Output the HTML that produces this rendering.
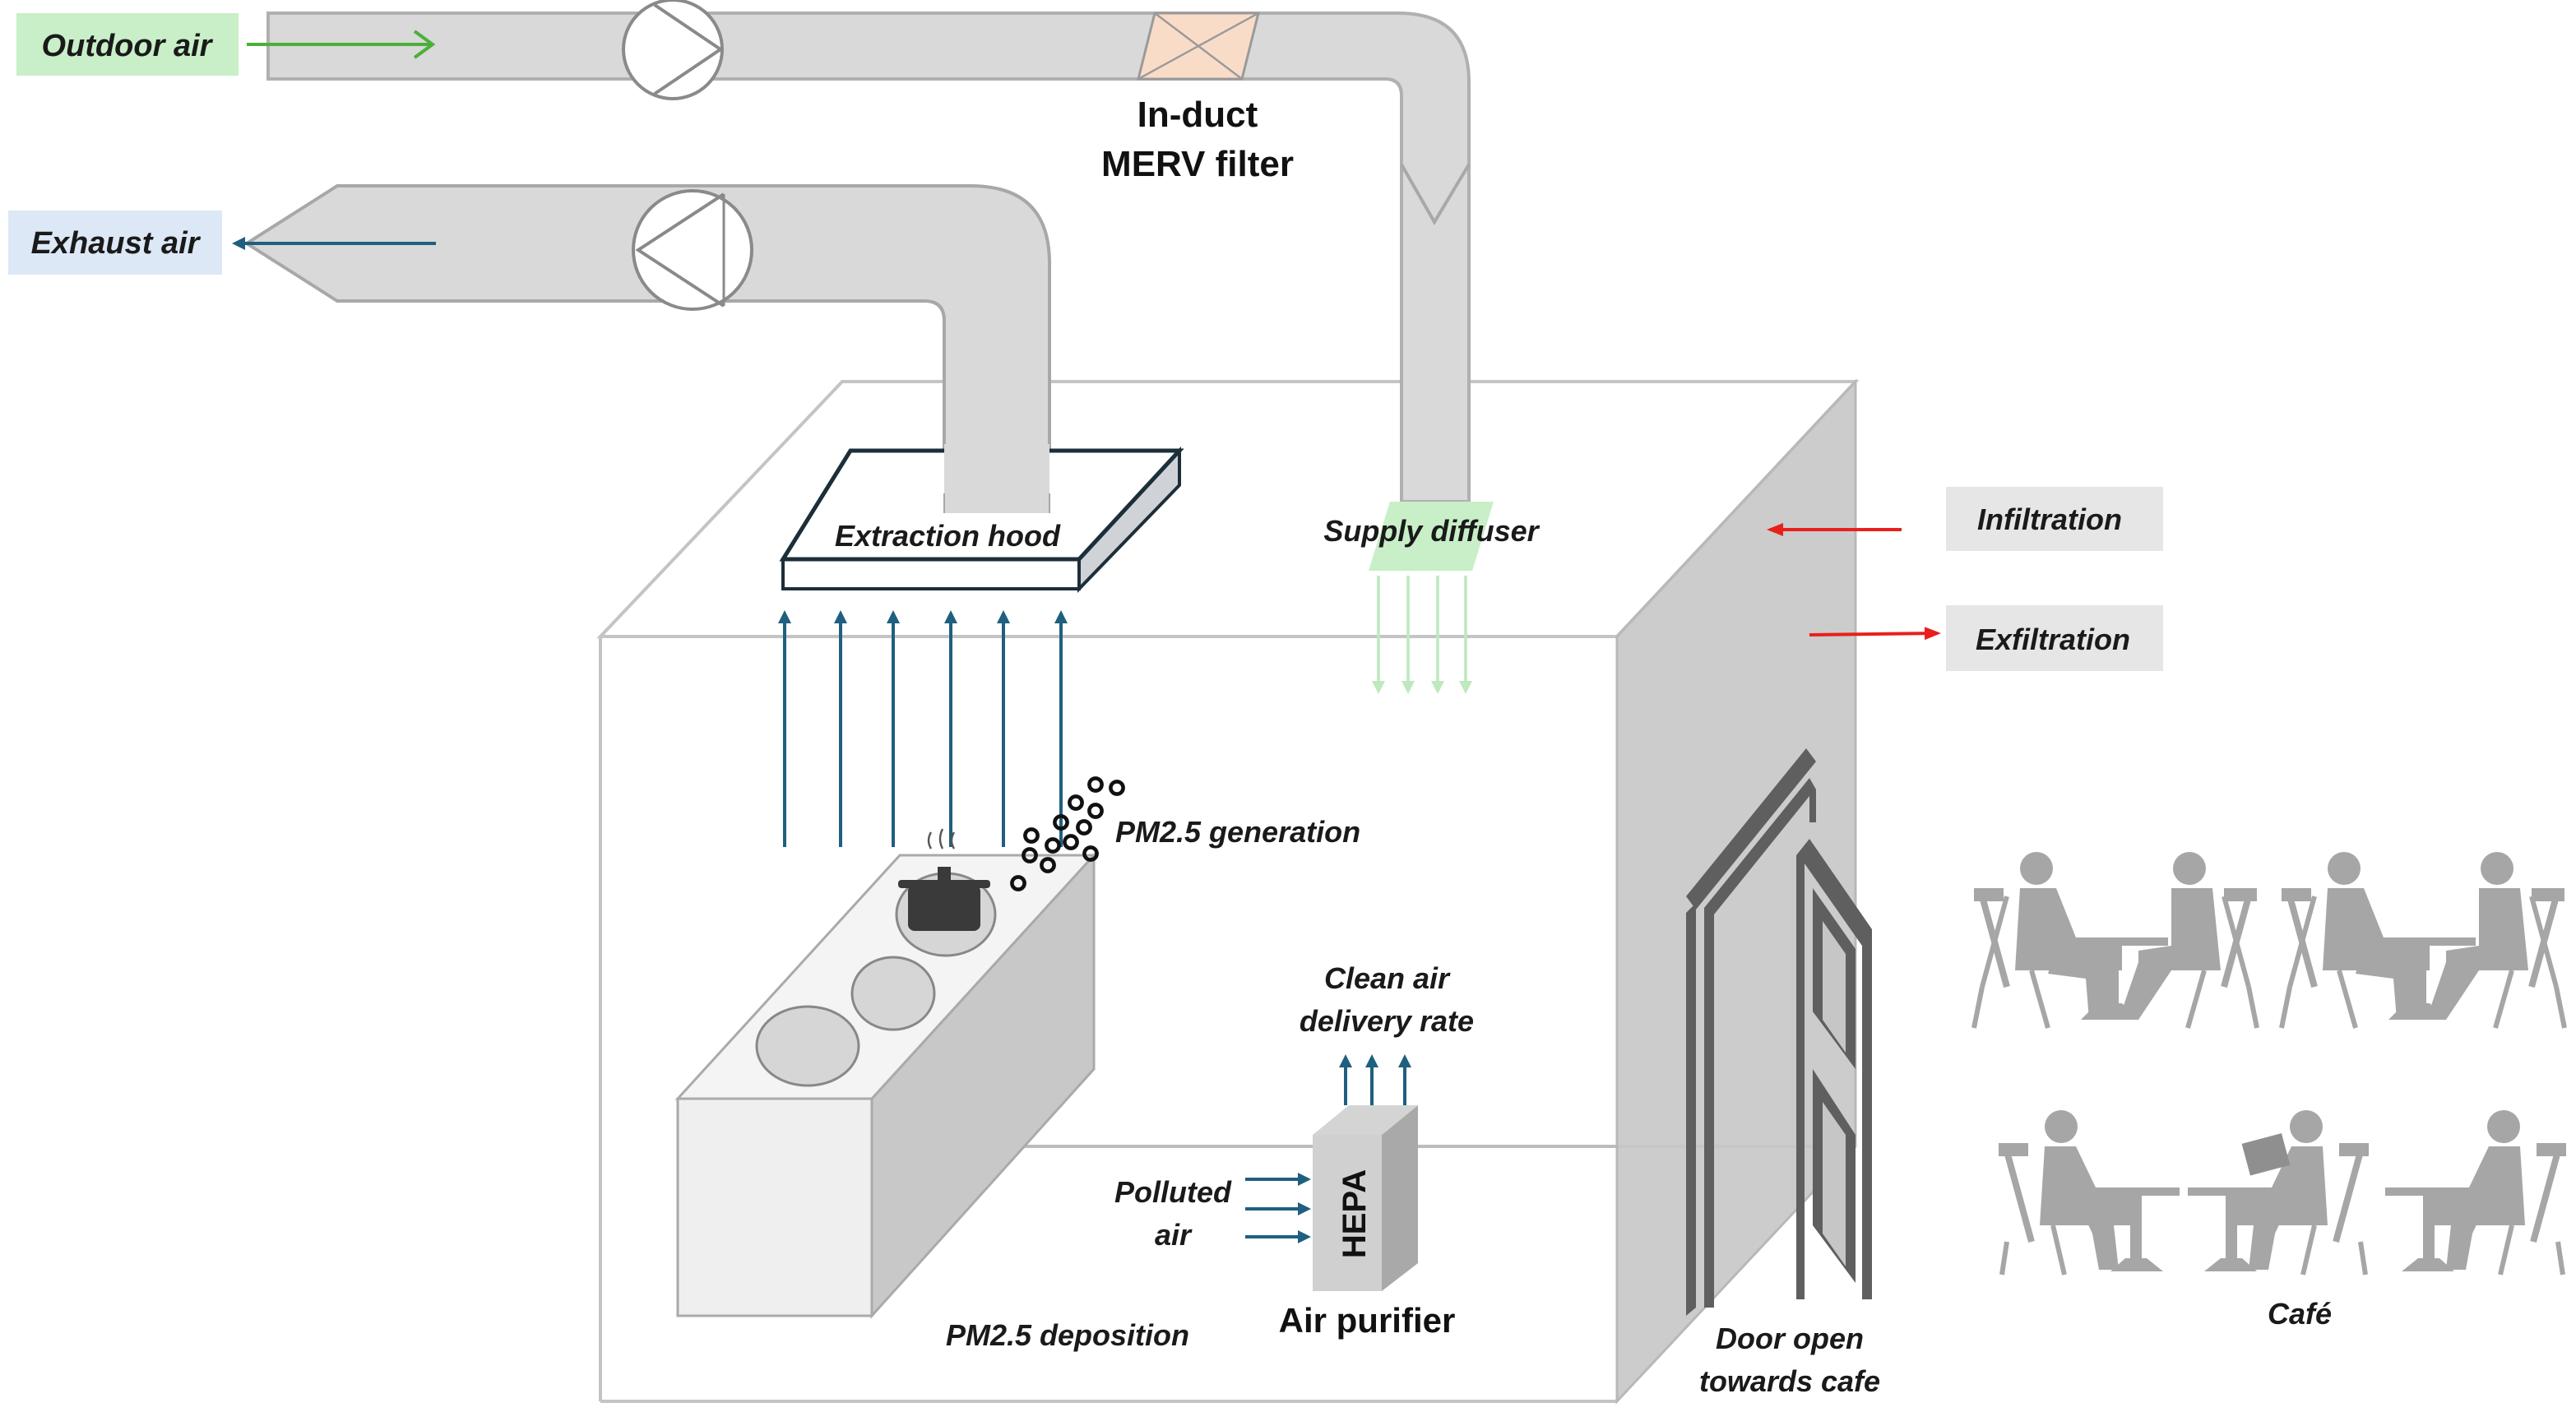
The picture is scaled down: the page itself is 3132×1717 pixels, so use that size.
<!DOCTYPE html>
<html><head><meta charset="utf-8"><style>
html,body{margin:0;padding:0;background:#fff;}
svg{display:block;}
text{font-family:"Liberation Sans",Arial,sans-serif;}
.it{font-style:italic;font-weight:bold;fill:#1a1a1a;}
</style></head><body>
<svg width="3132" height="1717" viewBox="0 0 1566 858.5" xmlns="http://www.w3.org/2000/svg">
<defs>
<marker id="ab" markerWidth="8" markerHeight="8" refX="6" refY="4" orient="auto" markerUnits="userSpaceOnUse"><path d="M0,0 L8,4 L0,8 z" fill="#1f5f80"/></marker>
<marker id="ar" markerWidth="10" markerHeight="8" refX="8" refY="4" orient="auto" markerUnits="userSpaceOnUse"><path d="M0,0 L10,4 L0,8 z" fill="#e8201c"/></marker>
<marker id="ag" markerWidth="8" markerHeight="8" refX="6" refY="4" orient="auto" markerUnits="userSpaceOnUse"><path d="M0,0 L8,4 L0,8 z" fill="#bfe8bf"/></marker>
</defs>

<polygon points="512,232 1128,232 983,387 365,387" fill="#fff" stroke="#c4c4c4" stroke-width="2"/>
<line x1="365" y1="387" x2="365" y2="852" stroke="#c4c4c4" stroke-width="2"/>
<line x1="365" y1="852" x2="983" y2="852" stroke="#c4c4c4" stroke-width="2"/>
<line x1="620" y1="697" x2="1128" y2="697" stroke="#bcbcbc" stroke-width="2"/>

<path d="M163,8 L850,8 Q893,8 893,50 L893,305 L852,305 L852,58 Q852,48 842,48 L163,48 Z" fill="#d9d9d9" stroke="#b0b0b0" stroke-width="2"/>
<polyline points="852,100 872,135 893,100" fill="none" stroke="#a8a8a8" stroke-width="2"/>
<circle cx="409" cy="30" r="30" fill="#fff" stroke="#8a8a8a" stroke-width="2"/>
<polyline points="398,3 438,30 398,57" fill="none" stroke="#8a8a8a" stroke-width="2"/>
<polygon points="702,8 765,8 755,48 692,48" fill="#f9dcc8" stroke="#9a9a9a" stroke-width="1.5"/>
<line x1="702" y1="8" x2="755" y2="48" stroke="#9a9a9a" stroke-width="1.2"/>
<line x1="765" y1="8" x2="692" y2="48" stroke="#9a9a9a" stroke-width="1.2"/>
<text x="728" y="77" font-size="22" font-weight="bold" text-anchor="middle" fill="#111">In-duct</text>
<text x="728" y="107" font-size="22" font-weight="bold" text-anchor="middle" fill="#111">MERV filter</text>

<rect x="10" y="8" width="135" height="38" fill="#c8efc8"/>
<text x="77" y="34" font-size="19" class="it" text-anchor="middle">Outdoor air</text>
<line x1="150" y1="27" x2="262" y2="27" stroke="#4caf3a" stroke-width="2"/>
<polyline points="252,19 263,27 252,35" fill="none" stroke="#4caf3a" stroke-width="2"/>

<path d="M205,113 L590,113 Q638,113 638,160 L638,312 L574,312 L574,195 Q574,183 562,183 L205,183 L150,148 Z" fill="#d9d9d9" stroke="#a8a8a8" stroke-width="2"/>
<circle cx="421" cy="152" r="36" fill="#fff" stroke="#8a8a8a" stroke-width="2"/>
<polyline points="440,118 388,152 440,186" fill="none" stroke="#8a8a8a" stroke-width="2"/>
<line x1="440" y1="118" x2="440" y2="186" stroke="#8a8a8a" stroke-width="1.5"/>
<rect x="5" y="128" width="130" height="39" fill="#dce8f5"/>
<text x="70" y="154" font-size="19" class="it" text-anchor="middle">Exhaust air</text>
<line x1="265" y1="148" x2="143" y2="148" stroke="#1f5f80" stroke-width="2" marker-end="url(#ab)"/>

<polygon points="656,340 717,274 717,295 656,358" fill="#cfd3d8" stroke="#1c2e3a" stroke-width="2"/>
<polygon points="476,340 656,340 656,358 476,358" fill="#fff" stroke="#1c2e3a" stroke-width="2"/>
<polygon points="517,274 717,274 656,340 476,340" fill="#fff" stroke="#1c2e3a" stroke-width="2.5"/>
<rect x="574" y="270" width="64" height="42" fill="#d9d9d9"/>
<line x1="574" y1="300" x2="574" y2="312" stroke="#a8a8a8"/><line x1="638" y1="300" x2="638" y2="312" stroke="#a8a8a8"/>
<text x="576" y="332" font-size="18" class="it" text-anchor="middle">Extraction hood</text>

<g stroke="#1f5f80" stroke-width="2" marker-end="url(#ab)">
<line x1="477" y1="515" x2="477" y2="373"/><line x1="511" y1="515" x2="511" y2="373"/>
<line x1="543" y1="515" x2="543" y2="373"/><line x1="578" y1="515" x2="578" y2="373"/>
<line x1="610" y1="515" x2="610" y2="373"/><line x1="645" y1="515" x2="645" y2="373"/>
</g>

<polygon points="983,387 1128,232 1128,697 983,852" fill="#c6c6c6" fill-opacity="0.9" stroke="#b8b8b8" stroke-width="1.5"/>

<polygon points="845,305 908,305 895,347 832,347" fill="#c8efc8"/>
<text x="870" y="329" font-size="18" class="it" text-anchor="middle">Supply diffuser</text>
<g stroke="#bfe8bf" stroke-width="1.8" marker-end="url(#ag)">
<line x1="838" y1="350" x2="838" y2="420"/><line x1="856" y1="350" x2="856" y2="420"/>
<line x1="874" y1="350" x2="874" y2="420"/><line x1="891" y1="350" x2="891" y2="420"/>
</g>

<rect x="1183" y="296" width="132" height="39" fill="#e6e6e6"/>
<text x="1246" y="322" font-size="18" class="it" text-anchor="middle">Infiltration</text>
<rect x="1183" y="368" width="132" height="40" fill="#e6e6e6"/>
<text x="1248" y="395" font-size="18" class="it" text-anchor="middle">Exfiltration</text>
<line x1="1156" y1="322" x2="1076" y2="322" stroke="#e8201c" stroke-width="2" marker-end="url(#ar)"/>
<line x1="1100" y1="386" x2="1178" y2="385" stroke="#e8201c" stroke-width="2" marker-end="url(#ar)"/>

<polygon points="530,668 665,520 665,650 530,800" fill="#c8c8c8" stroke="#aaa" stroke-width="1.5"/>
<polygon points="412,668 530,668 530,800 412,800" fill="#efefef" stroke="#aaa" stroke-width="1.5"/>
<polygon points="412,668 530,668 665,520 547,520" fill="#f4f4f4" stroke="#aaa" stroke-width="1.5"/>
<ellipse cx="491" cy="636" rx="31" ry="24" fill="#d6d6d6" stroke="#888" stroke-width="1.5"/>
<ellipse cx="543" cy="604" rx="25" ry="22" fill="#d6d6d6" stroke="#888" stroke-width="1.5"/>
<ellipse cx="575" cy="556" rx="30" ry="25" fill="#d6d6d6" stroke="#888" stroke-width="1.5"/>
<rect x="552" y="538" width="44" height="28" rx="4" fill="#3a3a3a"/>
<rect x="546" y="535" width="56" height="5" rx="2" fill="#3a3a3a"/>
<rect x="570" y="527" width="8" height="8" fill="#3a3a3a"/>
<path d="M566,506 q-3,5 0,10 M573,504 q-3,6 0,12 M580,506 q-3,5 0,10" stroke="#555" fill="none" stroke-width="1.2"/>

<g fill="none" stroke="#111" stroke-width="2.3">
<circle cx="666" cy="477" r="3.8"/><circle cx="679" cy="479" r="3.8"/><circle cx="654" cy="488" r="3.8"/><circle cx="666" cy="493" r="3.8"/>
<circle cx="645" cy="500" r="3.8"/><circle cx="659" cy="503" r="3.8"/><circle cx="627" cy="508" r="3.8"/><circle cx="640" cy="514" r="3.8"/>
<circle cx="651" cy="512" r="3.8"/><circle cx="626" cy="520" r="3.8"/><circle cx="637" cy="526" r="3.8"/><circle cx="663" cy="519" r="3.8"/><circle cx="619" cy="537" r="3.8"/>
</g>
<text x="678" y="512" font-size="18" class="it">PM2.5 generation</text>

<polygon points="840,690 862,672 862,768 840,785" fill="#a9a9a9"/>
<polygon points="798,690 820,672 862,672 840,690" fill="#d4d4d4"/>
<rect x="798" y="690" width="42" height="95" fill="#d0d0d0"/>
<text transform="translate(830,738) rotate(-90)" font-size="20" font-weight="bold" text-anchor="middle" fill="#111">HEPA</text>
<g stroke="#1f5f80" stroke-width="2" marker-end="url(#ab)">
<line x1="818" y1="672" x2="818" y2="643"/><line x1="834" y1="672" x2="834" y2="643"/><line x1="854" y1="672" x2="854" y2="643"/>
<line x1="757" y1="717" x2="795" y2="717"/><line x1="757" y1="735" x2="795" y2="735"/><line x1="757" y1="752" x2="795" y2="752"/>
</g>
<text x="843" y="601" font-size="18" class="it" text-anchor="middle">Clean air</text>
<text x="843" y="627" font-size="18" class="it" text-anchor="middle">delivery rate</text>
<text x="713" y="731" font-size="18" class="it" text-anchor="middle">Polluted</text>
<text x="713" y="757" font-size="18" class="it" text-anchor="middle">air</text>
<text x="831" y="810" font-size="21" font-weight="bold" text-anchor="middle" fill="#111">Air purifier</text>
<text x="649" y="818" font-size="18" class="it" text-anchor="middle">PM2.5 deposition</text>

<g fill="#5f5f5f">
<polygon points="1025,545 1098,455 1104,463 1031,553"/>
<polygon points="1025,555 1031,549 1031,795 1025,800"/>
<polygon points="1036,552 1100,473 1104,480 1104,500 1100,500 1100,484 1042,556 1042,795 1036,795"/>
<polygon points="1092,520 1100,510 1138,565 1138,790 1132,790 1132,575 1097,525 1097,790 1092,790" />
<polygon points="1102,540 1128,577 1128,650 1102,615"/>
<polygon points="1102,650 1128,690 1128,780 1102,745"/>
</g>
<g fill="#c6c6c6">
<polygon points="1108,560 1122,580 1122,640 1108,620"/>
<polygon points="1108,670 1122,690 1122,770 1108,750"/>
</g>
<text x="1088" y="820" font-size="18" class="it" text-anchor="middle">Door open</text>
<text x="1088" y="846" font-size="18" class="it" text-anchor="middle">towards cafe</text>

<g fill="#a6a6a6" stroke="#a6a6a6">
<g id="pair">
<rect x="1200" y="540" width="18" height="8" stroke="none"/>
<line x1="1205" y1="545" x2="1220" y2="600" stroke-width="4"/>
<line x1="1205" y1="600" x2="1220" y2="545" stroke-width="3"/>
<line x1="1205" y1="600" x2="1200" y2="625" stroke-width="3"/>
<line x1="1235" y1="590" x2="1245" y2="625" stroke-width="3"/>
<circle cx="1238" cy="528" r="10" stroke="none"/>
<path d="M1228,540 L1250,540 L1262,570 L1290,575 L1290,590 L1225,590 Z" stroke="none"/>
<path d="M1250,575 L1280,585 L1282,620 L1270,620 L1268,595 L1245,592 Z" stroke="none"/>
<rect x="1248" y="570" width="70" height="5" stroke="none"/>
<rect x="1280" y="570" width="8" height="50" stroke="none"/>
<path d="M1265,620 L1300,620 L1290,610 L1275,610 Z" stroke="none"/>
<circle cx="1331" cy="528" r="10" stroke="none"/>
<path d="M1320,540 L1345,540 L1350,590 L1300,590 L1300,578 L1320,575 Z" stroke="none"/>
<path d="M1300,585 L1320,590 L1300,620 L1288,620 Z" stroke="none"/>
<rect x="1352" y="540" width="20" height="8" stroke="none"/>
<line x1="1367" y1="545" x2="1352" y2="600" stroke-width="4"/>
<line x1="1367" y1="600" x2="1352" y2="545" stroke-width="3"/>
<line x1="1367" y1="600" x2="1372" y2="625" stroke-width="3"/>
<line x1="1340" y1="590" x2="1330" y2="625" stroke-width="3"/>
</g>
<use href="#pair" x="187" y="0"/>
<g id="single">
<rect x="1215" y="695" width="18" height="8" stroke="none"/>
<line x1="1220" y1="700" x2="1235" y2="755" stroke-width="4"/>
<line x1="1220" y1="755" x2="1217" y2="775" stroke-width="3"/>
<line x1="1248" y1="745" x2="1255" y2="775" stroke-width="3"/>
<circle cx="1253" cy="685" r="10" stroke="none"/>
<path d="M1243,697 L1262,697 L1274,722 L1295,725 L1295,745 L1240,745 Z" stroke="none"/>
<path d="M1265,735 L1285,745 L1288,772 L1276,772 L1272,750 Z" stroke="none"/>
<rect x="1270" y="722" width="55" height="5" stroke="none"/>
<rect x="1295" y="722" width="7" height="48" stroke="none"/>
<path d="M1283,773 L1315,773 L1305,765 L1292,765 Z" stroke="none"/>
</g>
<g transform="translate(2655,0) scale(-1,1)"><use href="#single"/></g>
<g transform="translate(2775,0) scale(-1,1)"><use href="#single"/></g>
<rect x="1365" y="692" width="25" height="20" transform="rotate(-15 1377 702)" stroke="none" fill="#8f8f8f"/>
</g>
<text x="1398" y="805" font-size="18" class="it" text-anchor="middle">Café</text>
</svg>
</body></html>
